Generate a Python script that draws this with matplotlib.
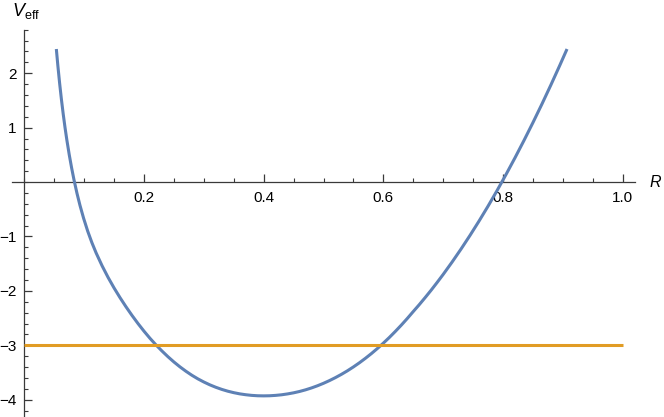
import matplotlib
matplotlib.use("Agg")
import matplotlib.pyplot as plt
from matplotlib.ticker import MultipleLocator, FixedLocator

plt.rcParams['font.family'] = ['Liberation Sans', 'DejaVu Sans']
plt.rcParams['mathtext.fontset'] = 'custom'
plt.rcParams['mathtext.rm'] = 'Liberation Sans'
plt.rcParams['mathtext.it'] = 'Liberation Sans:italic'

# Curve: R values and V_eff values
R_vals = [0.0535, 0.056, 0.059, 0.062, 0.065, 0.068, 0.071, 0.075, 0.079,
          0.083, 0.088, 0.093, 0.099, 0.106, 0.113, 0.120, 0.13, 0.14,
          0.15, 0.16, 0.17, 0.18, 0.19, 0.20, 0.21, 0.22, 0.23, 0.24,
          0.25, 0.26, 0.27, 0.28, 0.29, 0.30, 0.31, 0.32, 0.33, 0.34,
          0.35, 0.36, 0.37, 0.38, 0.39, 0.40, 0.41, 0.42, 0.43, 0.44,
          0.45, 0.46, 0.47, 0.48, 0.49, 0.50, 0.51, 0.52, 0.53, 0.54,
          0.55, 0.56, 0.57, 0.58, 0.59, 0.60, 0.61, 0.62, 0.63, 0.64,
          0.65, 0.66, 0.67, 0.68, 0.69, 0.70, 0.715, 0.73, 0.745, 0.76,
          0.775, 0.79, 0.805, 0.82, 0.835, 0.85, 0.865, 0.88, 0.895, 0.907]
V_vals = [2.445, 2.144, 1.815, 1.518, 1.249, 1.003, 0.778, 0.506, 0.262,
          0.041, -0.207, -0.428, -0.663, -0.905, -1.116, -1.303, -1.540, -1.753,
          -1.947, -2.126, -2.294, -2.452, -2.601, -2.741, -2.872, -2.993, -3.105, -3.210,
          -3.307, -3.396, -3.477, -3.551, -3.617, -3.675, -3.727, -3.772, -3.811, -3.844,
          -3.871, -3.893, -3.909, -3.921, -3.928, -3.930, -3.928, -3.921, -3.910, -3.894,
          -3.874, -3.849, -3.819, -3.784, -3.744, -3.699, -3.649, -3.594, -3.534, -3.469,
          -3.398, -3.322, -3.240, -3.153, -3.060, -2.961, -2.857, -2.746, -2.630, -2.508,
          -2.380, -2.254, -2.122, -1.986, -1.844, -1.698, -1.469, -1.229, -0.978, -0.716,
          -0.443, -0.158, 0.138, 0.445, 0.763, 1.092, 1.432, 1.784, 2.147, 2.445]

level_value = -3.0
level_range = [0.0, 1.0]

x_major = [0.2, 0.4, 0.6, 0.8, 1.0]
x_major_labels = ['0.2', '0.4', '0.6', '0.8', '1.0']
y_major = [-4, -3, -2, -1, 1, 2]
y_major_labels = ['\u22124', '\u22123', '\u22122', '\u22121', '1', '2']

W, H = 664, 417
fig = plt.figure(figsize=(W / 100, H / 100), dpi=100)
x0, x1 = 12.0, 635.0
y_top, y_bot = 29.7, 416.0
ax = fig.add_axes([x0 / W, (H - y_bot) / H, (x1 - x0) / W, (y_bot - y_top) / H])

blue = '#5E81B5'
orange = '#E19C24'
ax.plot(R_vals, V_vals, color=blue, lw=2.2, solid_capstyle='butt',
        solid_joinstyle='round', zorder=3)
ax.hlines(level_value, level_range[0], level_range[1], color=orange, lw=2.2, zorder=4)

ax.set_xlim(-0.0206, 1.0206)
ax.set_ylim(-4.3, 2.8)

for s in ['top', 'right']:
    ax.spines[s].set_visible(False)
ax.spines['left'].set_position(('data', 0))
ax.spines['bottom'].set_position(('data', 0))
axis_col = '#3a3a3a'
for s in ['left', 'bottom']:
    ax.spines[s].set_color(axis_col)
    ax.spines[s].set_linewidth(0.9)

ax.xaxis.set_major_locator(FixedLocator(x_major))
ax.set_xticklabels(x_major_labels)
ax.xaxis.set_minor_locator(MultipleLocator(0.05))
ax.yaxis.set_major_locator(FixedLocator(y_major))
ax.set_yticklabels(y_major_labels)
ax.yaxis.set_minor_locator(MultipleLocator(0.2))

ax.tick_params(axis='x', which='major', direction='in', length=5.5, width=0.9,
               color=axis_col, labelsize=11, pad=6.5)
ax.tick_params(axis='x', which='minor', direction='in', length=3, width=0.8, color=axis_col)
ax.tick_params(axis='y', which='major', direction='in', length=5.5, width=0.9,
               color=axis_col, labelsize=11, pad=5.5)
ax.tick_params(axis='y', which='minor', direction='in', length=3, width=0.8, color=axis_col)

fig.text(649 / W, 1 - 182.3 / H, 'R', style='italic', fontsize=11.5, ha='left', va='center')
fig.text(12 / W, 1 - 11 / H, r'$V_{\mathrm{eff}}$', fontsize=13, ha='left', va='center')

fig.savefig('out.png', dpi=100)
